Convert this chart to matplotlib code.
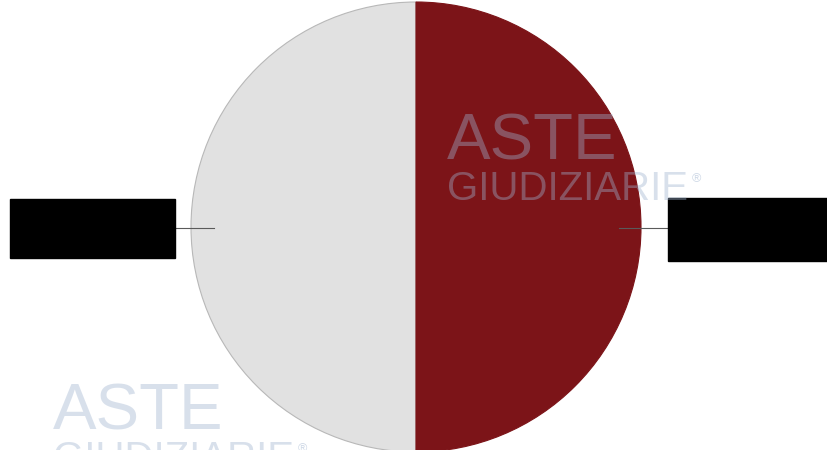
import numpy as np
import matplotlib
matplotlib.use("Agg")
import matplotlib.pyplot as plt
from matplotlib.patches import Rectangle

# two equal shares; the category labels are redacted (black boxes) in the source
shares = [50, 50]
slice_colors = ["#e1e1e1", "#7c1418"]
edge_colors = ["#b8b8b8", "#7c1418"]
watermark_lines = ["ASTE", "GIUDIZIARIE"]

W, H = 827, 450
fig = plt.figure(figsize=(W / 100, H / 100), dpi=100)
ax = fig.add_axes([0, 0, 1, 1])

cx, cy, r = 416, H - 227, 225
wedges, _ = ax.pie(
    shares, colors=slice_colors, startangle=90, counterclock=True,
    center=(cx, cy), radius=r, frame=True,
    wedgeprops=dict(linewidth=0.8),
)
for w, ec in zip(wedges, edge_colors):
    w.set_edgecolor(ec)
ax.set_xlim(0, W)
ax.set_ylim(0, H)
ax.axis("off")

# leader lines + redacted label boxes
box_w = [165, 159]
box_h = [59, 63]
for i, w in enumerate(wedges):
    mid = np.deg2rad((w.theta1 + w.theta2) / 2)
    dx, dy = np.cos(mid), np.sin(mid)
    inner = 0.9 * r
    outer = 1.07 * r if dx < 0 else 1.12 * r
    x0, y0 = cx + inner * dx, cy + inner * dy - 1
    x1, y1 = cx + outer * dx, cy + outer * dy - 1
    ax.plot([x0, x1], [y0, y1], color="#5a5a5a", linewidth=0.8, zorder=3)
    bx = x1 - box_w[i] if dx < 0 else x1
    by = y1 - box_h[i] / 2 - (0 if dx < 0 else 2)
    ax.add_patch(Rectangle((bx, by), box_w[i], box_h[i], color="black", zorder=4))

# faint watermarks
wm_color = "#9fb3cf"
for (x, y) in [(447, H - 160), (53, H - 430)]:
    ax.text(x, y, watermark_lines[0], fontsize=47, family="Liberation Sans",
            fontstretch="condensed", color=wm_color, alpha=0.4,
            ha="left", va="baseline", zorder=5)
    t = ax.text(x, y - 40, watermark_lines[1], fontsize=29, family="Liberation Sans",
                fontstretch="condensed", color=wm_color, alpha=0.4,
                ha="left", va="baseline", zorder=5)
    ax.annotate("\u00ae", xy=(1, 0.75), xycoords=t, xytext=(3, 0),
                textcoords="offset points", fontsize=9, family="Liberation Sans",
                color=wm_color, alpha=0.5, ha="left", va="center", zorder=5)

fig.savefig("out.png", dpi=100, facecolor="white")
